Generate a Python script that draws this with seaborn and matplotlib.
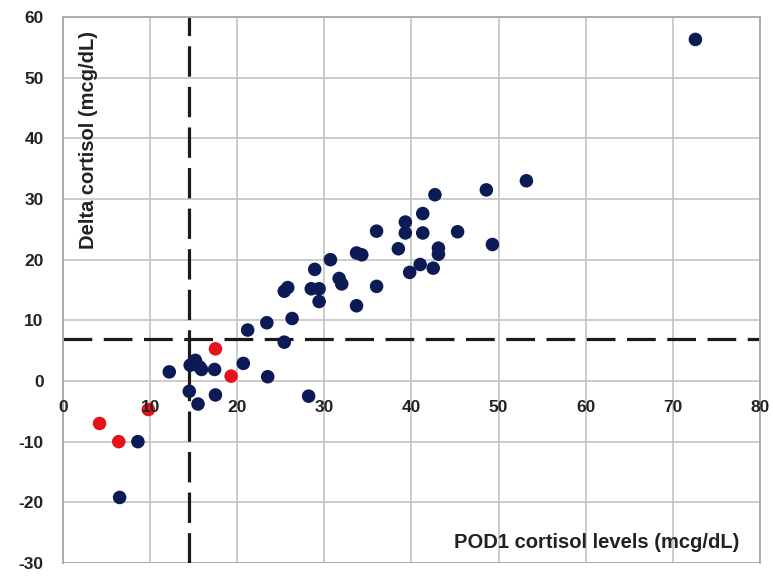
import numpy as np
import pandas as pd
import matplotlib
matplotlib.use("Agg")
import matplotlib.pyplot as plt
import seaborn as sns

# %% Data
navy_x = [72.6, 53.2, 48.6, 42.7, 41.3, 39.3, 39.3, 41.3, 36.0, 45.3,
          49.3, 43.1, 43.1, 38.5, 33.7, 34.3, 30.7, 41.0, 39.8, 42.5,
          28.9, 31.7, 32.0, 28.5, 29.4, 29.4, 25.4, 25.8, 36.0, 33.7,
          23.4, 26.3, 21.2, 25.4, 20.7, 23.5, 12.2, 14.6, 15.2, 15.7,
          15.9, 17.4, 14.5, 15.5, 17.5, 28.2, 8.6, 6.5]
navy_y = [56.3, 33.0, 31.5, 30.7, 27.6, 26.2, 24.4, 24.4, 24.7, 24.6,
          22.5, 21.9, 20.9, 21.8, 21.1, 20.8, 20.0, 19.2, 17.9, 18.6,
          18.4, 16.9, 16.0, 15.2, 15.2, 13.1, 14.8, 15.4, 15.6, 12.4,
          9.6, 10.3, 8.4, 6.4, 2.9, 0.7, 1.5, 2.6, 3.4, 2.3,
          1.9, 1.9, -1.7, -3.8, -2.3, -2.5, -10.0, -19.2]
red_x = [17.5, 19.3, 9.8, 4.2, 6.4]
red_y = [5.3, 0.8, -4.7, -7.0, -10.0]

cutoff_x = 14.5   # vertical dashed line
cutoff_y = 7.0    # horizontal dashed line

x_ticks = [0, 10, 20, 30, 40, 50, 60, 70, 80]
y_ticks = [-30, -20, -10, 0, 10, 20, 30, 40, 50, 60]

df = pd.DataFrame({
    "pod1": navy_x + red_x,
    "delta": navy_y + red_y,
    "grp": ["navy"] * len(navy_x) + ["red"] * len(red_x),
})

# %% Plot
sns.set_style("white")
plt.rcParams["axes.unicode_minus"] = False
fig = plt.figure(figsize=(7.73, 5.76), dpi=100)
ax = fig.add_axes([0.0815, 0.0226, 0.9015, 0.9479])

sns.scatterplot(data=df, x="pod1", y="delta", hue="grp",
                palette={"navy": "#0c1a55", "red": "#e8121c"},
                s=95, edgecolor="none", legend=False, ax=ax, zorder=2)

ax.axvline(cutoff_x, color="#1a1a1a", lw=2.3, dashes=(9.5, 3.2), zorder=1.5)
ax.axhline(cutoff_y, color="#1a1a1a", lw=2.3, dashes=(9, 3.6), zorder=1.5)

ax.set_xlim(0, 80)
ax.set_ylim(-30, 60)
ax.set_xticks(x_ticks)
ax.set_yticks(y_ticks)

#-- grid: horizontal from the y axis, vertical drawn under the points
ax.set_axisbelow(True)
ax.grid(axis="y", color="#c4c4c4", lw=1.2)
ax.vlines(x_ticks, -30, 60, color="#c4c4c4", lw=1.2, zorder=0.5)
ax.xaxis.set_zorder(2.5)

#-- x axis crosses at y = 0 (Excel style)
ax.spines["bottom"].set_position(("data", 0))
ax.spines["bottom"].set_visible(False)
for side in ["left", "right", "top"]:
    ax.spines[side].set_color("#a8a8a8")
    ax.spines[side].set_linewidth(1.3)
ax.axhline(-30, color="#a8a8a8", lw=1.3, zorder=0.6)

ax.tick_params(axis="x", length=0, pad=14, labelsize=12.5, labelcolor="#222222")
ax.tick_params(axis="y", length=0, pad=14, labelsize=12.5, labelcolor="#222222")
for lab in ax.get_xticklabels() + ax.get_yticklabels():
    lab.set_fontweight("bold")
    lab.set_family("Liberation Sans")

ax.set_xlabel("")
ax.set_ylabel("")
ax.text(77.7, -26.7, "POD1 cortisol levels (mcg/dL)", ha="right", va="center",
        fontsize=14.5, fontweight="bold", family="Liberation Sans", color="#222222")
ax.text(2.9, 39.8, "Delta cortisol (mcg/dL)", ha="center", va="center", rotation=90,
        fontsize=14.5, fontweight="bold", family="Liberation Sans", color="#222222")

fig.savefig("out.png", dpi=100, facecolor="white")
plt.close(fig)
